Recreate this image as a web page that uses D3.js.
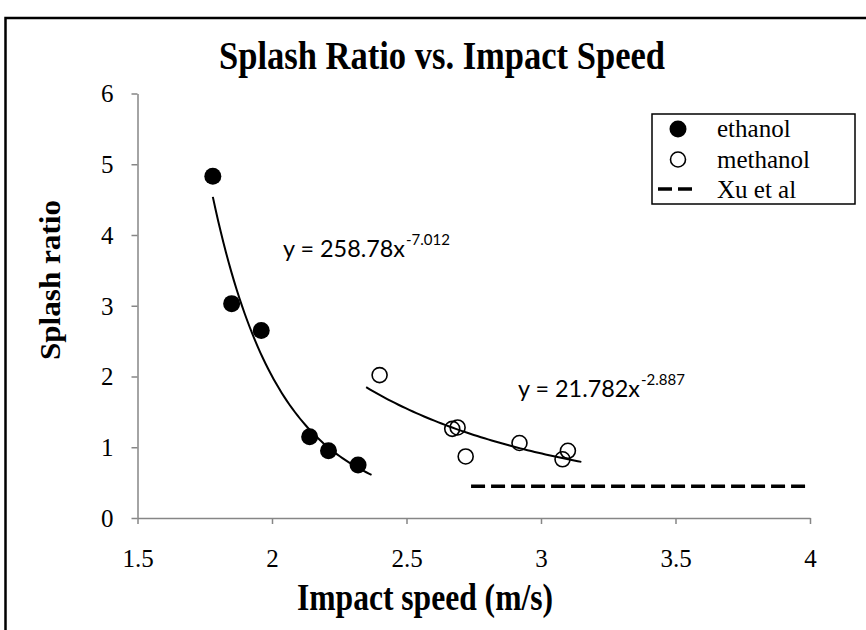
<!DOCTYPE html>
<html>
<head>
<meta charset="utf-8">
<script src="https://cdn.jsdelivr.net/npm/d3@7"></script>
<style>
body { margin: 0; background: #fff; }
svg { display: block; }
.axis path, .axis line { stroke: #868686; stroke-width: 1.5; }
.axis text { font-family: "Liberation Serif", "Times New Roman", serif; font-size: 25px; fill: #000; }
</style>
</head>
<body>
<svg width="866" height="630"></svg>
<script>
// values
var ethanolX = [1.78, 1.85, 1.96, 2.14, 2.21, 2.32];
var ethanolY = [4.83, 3.03, 2.65, 1.15, 0.95, 0.75];
var methanolX = [2.40, 2.67, 2.69, 2.72, 2.92, 3.08, 3.10];
var methanolY = [2.02, 1.26, 1.28, 0.87, 1.06, 0.83, 0.95];
var xuX = [2.74, 4.0];
var xuY = [0.45, 0.45];
// power trendlines y = a * x^b, as printed on the chart
var ethanolFit = {a: 258.78, b: -7.012, from: 1.78, to: 2.37, label: 'y = 258.78x', sup: '-7.012'};
var methanolFit = {a: 21.782, b: -2.887, from: 2.35, to: 3.15, label: 'y = 21.782x', sup: '-2.887'};
var xTicks = [1.5, 2, 2.5, 3, 3.5, 4];
var yTicks = [0, 1, 2, 3, 4, 5, 6];
var legendNames = ['ethanol', 'methanol', 'Xu et al'];

var svg = d3.select('svg');

// outer frame (only left and top edges fall inside the picture)
svg.append('rect')
    .attr('x', 5.5).attr('y', 18)
    .attr('width', 1000).attr('height', 1000)
    .attr('fill', 'none').attr('stroke', '#000').attr('stroke-width', 2.5);

var xScale = d3.scaleLinear().domain([1.5, 4]).range([137.5, 810]);
var yScale = d3.scaleLinear().domain([0, 6]).range([518, 93.5]);

var xAxis = d3.axisBottom(xScale).tickValues(xTicks).tickSize(6).tickSizeOuter(0)
    .tickFormat(d3.format('~g'));
var yAxis = d3.axisLeft(yScale).tickValues(yTicks).tickSize(6).tickSizeOuter(0)
    .tickFormat(d3.format('d'));

svg.append('g')
    .attr('class', 'x axis')
    .attr('transform', 'translate(0,' + yScale(0) + ')')
    .call(xAxis)
    .selectAll('text').attr('y', 49).attr('dy', 0);

svg.append('g')
    .attr('class', 'y axis')
    .attr('transform', 'translate(' + xScale(1.5) + ',0)')
    .call(yAxis)
    .selectAll('text').attr('x', -24).attr('dy', '0.33em');

// titles
svg.append('text')
    .attr('x', 219).attr('y', 69)
    .attr('textLength', 446).attr('lengthAdjust', 'spacingAndGlyphs')
    .style('font-family', '"Liberation Serif", "Times New Roman", serif')
    .style('font-weight', 'bold').style('font-size', '40px')
    .text('Splash Ratio vs. Impact Speed');

svg.append('text')
    .attr('x', 297).attr('y', 610)
    .attr('textLength', 256).attr('lengthAdjust', 'spacingAndGlyphs')
    .style('font-family', '"Liberation Serif", "Times New Roman", serif')
    .style('font-weight', 'bold').style('font-size', '38px')
    .text('Impact speed (m/s)');

svg.append('text')
    .attr('transform', 'translate(60,360)rotate(-90)')
    .attr('textLength', 160).attr('lengthAdjust', 'spacingAndGlyphs')
    .style('font-family', '"Liberation Serif", "Times New Roman", serif')
    .style('font-weight', 'bold').style('font-size', '30px')
    .text('Splash ratio');

// trendlines
var line = d3.line()
    .x(function(d) { return xScale(d[0]); })
    .y(function(d) { return yScale(d[1]); });

[ethanolFit, methanolFit].forEach(function(f) {
    var pts = d3.range(0, 61).map(function(i) {
        var x = f.from + (f.to - f.from) * i / 60;
        return [x, f.a * Math.pow(x, f.b)];
    });
    svg.append('path')
        .attr('d', line(pts))
        .attr('fill', 'none').attr('stroke', '#000').attr('stroke-width', 2);
});

// Xu et al dashed line
svg.append('path')
    .attr('d', line(d3.zip(xuX, xuY)))
    .attr('fill', 'none').attr('stroke', '#000').attr('stroke-width', 3.5)
    .attr('stroke-dasharray', '14,6');

// points
svg.selectAll('.eth')
    .data(d3.zip(ethanolX, ethanolY))
    .enter().append('circle')
    .attr('class', 'eth')
    .attr('cx', function(d) { return xScale(d[0]); })
    .attr('cy', function(d) { return yScale(d[1]); })
    .attr('r', 8.5)
    .attr('fill', '#000');

svg.selectAll('.meth')
    .data(d3.zip(methanolX, methanolY))
    .enter().append('circle')
    .attr('class', 'meth')
    .attr('cx', function(d) { return xScale(d[0]); })
    .attr('cy', function(d) { return yScale(d[1]); })
    .attr('r', 7.5)
    .attr('fill', 'none').attr('stroke', '#000').attr('stroke-width', 1.6);

// equation labels
function equation(x, y, f) {
    var t = svg.append('text')
        .attr('x', x).attr('y', y)
        .attr('textLength', 122).attr('lengthAdjust', 'spacingAndGlyphs')
        .style('font-family', 'Lato, "Open Sans", sans-serif')
        .style('font-size', '24px')
        .text(f.label);
    svg.append('text')
        .attr('x', x + 123).attr('y', y - 12)
        .style('font-family', 'Lato, "Open Sans", sans-serif')
        .style('font-size', '15px')
        .text(f.sup);
}
equation(283, 257, ethanolFit);
equation(518, 397, methanolFit);

// legend
var legend = svg.append('g').attr('class', 'legend');
legend.append('rect')
    .attr('x', 652).attr('y', 114).attr('width', 203).attr('height', 90)
    .attr('fill', '#fff').attr('stroke', '#000').attr('stroke-width', 1.5);

var rows = legend.selectAll('.row')
    .data(legendNames)
    .enter().append('g')
    .attr('class', 'row')
    .attr('transform', function(d, i) { return 'translate(0,' + (137 + i * 30.5) + ')'; });

rows.append('text')
    .attr('x', 717)
    .style('font-family', '"Liberation Serif", "Times New Roman", serif')
    .style('font-size', '25px')
    .text(function(d) { return d; });

rows.filter(function(d, i) { return i === 0; }).append('circle')
    .attr('cx', 678).attr('cy', -8).attr('r', 8.5).attr('fill', '#000');
rows.filter(function(d, i) { return i === 1; }).append('circle')
    .attr('cx', 678).attr('cy', -8).attr('r', 7.5)
    .attr('fill', 'none').attr('stroke', '#000').attr('stroke-width', 1.6);
rows.filter(function(d, i) { return i === 2; }).append('line')
    .attr('x1', 658).attr('x2', 698).attr('y1', -9).attr('y2', -9)
    .attr('stroke', '#000').attr('stroke-width', 3.5).attr('stroke-dasharray', '14,6');
</script>
</body>
</html>
